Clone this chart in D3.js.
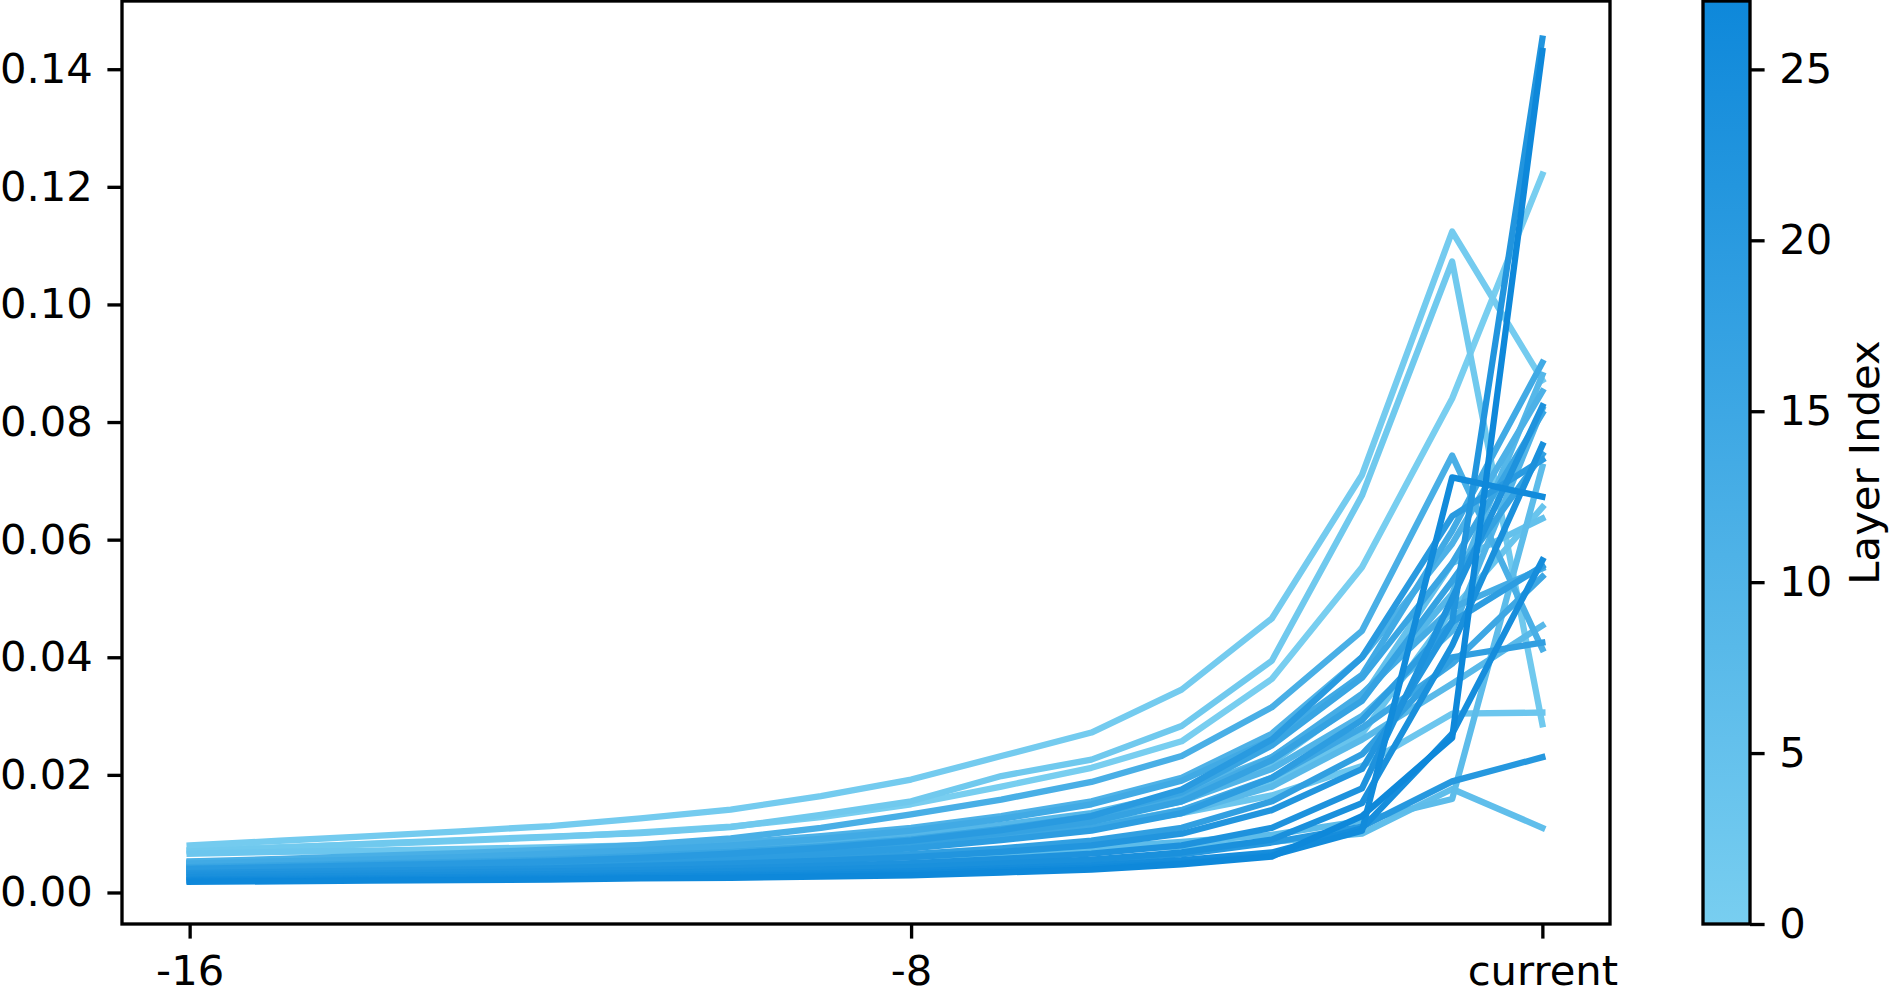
<!DOCTYPE html>
<html>
<head>
<meta charset="utf-8">
<script src="https://cdn.jsdelivr.net/npm/d3@7"></script>
<style>
  html, body { margin: 0; padding: 0; background: #fff; }
  svg { display: block; font-family: "DejaVu Sans", sans-serif; }
</style>
</head>
<body>
<svg id="chart" width="1890" height="995"></svg>
<script>
// ======================================================================
// DATA – per-layer value at each history step
// ======================================================================
const steps = [-16, -15, -14, -13, -12, -11, -10, -9, -8, -7, -6, -5, -4, -3, -2, -1];
const xTickValues = [-16, -8, -1];
const xTickLabels = ["-16", "-8", "current"];
const yTickValues = [0, 0.02, 0.04, 0.06, 0.08, 0.10, 0.12, 0.14];
const colorbarTicks = [0, 5, 10, 15, 20, 25];

const layer00 = [0.0072, 0.0077, 0.0082, 0.0088, 0.0094, 0.0102, 0.0112, 0.0128, 0.0150, 0.0180, 0.0212, 0.0257, 0.0363, 0.0553, 0.0840, 0.1221];
const layer01 = [0.0080, 0.0088, 0.0096, 0.0104, 0.0113, 0.0126, 0.0141, 0.0164, 0.0192, 0.0232, 0.0272, 0.0345, 0.0466, 0.0710, 0.1124, 0.0871];
const layer02 = [0.0070, 0.0076, 0.0083, 0.0089, 0.0095, 0.0101, 0.0111, 0.0132, 0.0155, 0.0198, 0.0226, 0.0283, 0.0394, 0.0675, 0.1073, 0.0286];
const layer03 = [0.0066, 0.0069, 0.0071, 0.0074, 0.0077, 0.0080, 0.0084, 0.0090, 0.0097, 0.0106, 0.0118, 0.0135, 0.0165, 0.0215, 0.0304, 0.0306];
const layer04 = [0.0052, 0.0055, 0.0057, 0.0060, 0.0063, 0.0067, 0.0072, 0.0078, 0.0085, 0.0097, 0.0112, 0.0140, 0.0190, 0.0270, 0.0480, 0.0655];
const layer05 = [0.0050, 0.0053, 0.0056, 0.0059, 0.0062, 0.0067, 0.0074, 0.0081, 0.0090, 0.0106, 0.0125, 0.0160, 0.0220, 0.0330, 0.0560, 0.0636];
const layer06 = [0.0040, 0.0042, 0.0044, 0.0046, 0.0048, 0.0050, 0.0053, 0.0056, 0.0060, 0.0066, 0.0072, 0.0078, 0.0086, 0.0100, 0.0176, 0.0110];
const layer07 = [0.0038, 0.0040, 0.0042, 0.0044, 0.0046, 0.0049, 0.0052, 0.0056, 0.0061, 0.0068, 0.0076, 0.0086, 0.0098, 0.0122, 0.0159, 0.0724];
const layer08 = [0.0047, 0.0050, 0.0052, 0.0055, 0.0058, 0.0062, 0.0067, 0.0074, 0.0082, 0.0095, 0.0110, 0.0135, 0.0180, 0.0260, 0.0355, 0.0454];
const layer09 = [0.0050, 0.0053, 0.0057, 0.0060, 0.0064, 0.0070, 0.0077, 0.0086, 0.0098, 0.0115, 0.0135, 0.0170, 0.0230, 0.0330, 0.0508, 0.0880];
const layer10 = [0.0048, 0.0051, 0.0054, 0.0057, 0.0061, 0.0066, 0.0073, 0.0081, 0.0092, 0.0107, 0.0125, 0.0155, 0.0210, 0.0300, 0.0445, 0.0822];
const layer11 = [0.0051, 0.0055, 0.0059, 0.0063, 0.0068, 0.0075, 0.0084, 0.0096, 0.0110, 0.0130, 0.0155, 0.0195, 0.0270, 0.0400, 0.0593, 0.0852];
const layer12 = [0.0053, 0.0057, 0.0062, 0.0067, 0.0073, 0.0081, 0.0092, 0.0110, 0.0133, 0.0158, 0.0188, 0.0232, 0.0315, 0.0445, 0.0743, 0.0414];
const layer13 = [0.0045, 0.0048, 0.0051, 0.0054, 0.0058, 0.0063, 0.0070, 0.0079, 0.0090, 0.0106, 0.0125, 0.0160, 0.0230, 0.0338, 0.0484, 0.0551];
const layer14 = [0.0049, 0.0053, 0.0056, 0.0060, 0.0066, 0.0072, 0.0080, 0.0091, 0.0105, 0.0125, 0.0150, 0.0190, 0.0260, 0.0370, 0.0615, 0.0901];
const layer15 = [0.0042, 0.0045, 0.0047, 0.0050, 0.0053, 0.0058, 0.0064, 0.0071, 0.0080, 0.0094, 0.0110, 0.0140, 0.0195, 0.0280, 0.0389, 0.0537];
const layer16 = [0.0043, 0.0046, 0.0049, 0.0052, 0.0056, 0.0062, 0.0069, 0.0078, 0.0090, 0.0108, 0.0130, 0.0170, 0.0250, 0.0365, 0.0560, 0.0815];
const layer17 = [0.0041, 0.0044, 0.0047, 0.0050, 0.0054, 0.0059, 0.0066, 0.0075, 0.0085, 0.0101, 0.0120, 0.0155, 0.0225, 0.0326, 0.0530, 0.0745];
const layer18 = [0.0036, 0.0038, 0.0040, 0.0042, 0.0045, 0.0048, 0.0052, 0.0058, 0.0065, 0.0075, 0.0088, 0.0110, 0.0155, 0.0235, 0.0400, 0.0425];
const layer19 = [0.0038, 0.0040, 0.0043, 0.0046, 0.0049, 0.0053, 0.0059, 0.0066, 0.0075, 0.0089, 0.0105, 0.0135, 0.0195, 0.0293, 0.0460, 0.0555];
const layer20 = [0.0040, 0.0043, 0.0046, 0.0049, 0.0053, 0.0059, 0.0066, 0.0076, 0.0088, 0.0106, 0.0130, 0.0175, 0.0260, 0.0400, 0.0640, 0.0736];
const layer21 = [0.0028, 0.0029, 0.0030, 0.0031, 0.0033, 0.0035, 0.0037, 0.0040, 0.0043, 0.0048, 0.0055, 0.0065, 0.0085, 0.0112, 0.0189, 0.0230];
const layer22 = [0.0033, 0.0035, 0.0037, 0.0039, 0.0041, 0.0045, 0.0049, 0.0054, 0.0060, 0.0069, 0.0080, 0.0100, 0.0140, 0.0210, 0.0460, 0.1452];
const layer23 = [0.0030, 0.0031, 0.0032, 0.0034, 0.0036, 0.0038, 0.0041, 0.0045, 0.0050, 0.0057, 0.0066, 0.0080, 0.0110, 0.0177, 0.0500, 0.0827];
const layer24 = [0.0026, 0.0027, 0.0028, 0.0030, 0.0031, 0.0033, 0.0036, 0.0039, 0.0043, 0.0049, 0.0056, 0.0068, 0.0090, 0.0152, 0.0420, 0.0761];
const layer25 = [0.0022, 0.0023, 0.0024, 0.0026, 0.0027, 0.0029, 0.0031, 0.0033, 0.0036, 0.0041, 0.0046, 0.0055, 0.0068, 0.0109, 0.0270, 0.0565];
const layer26 = [0.0020, 0.0021, 0.0022, 0.0023, 0.0024, 0.0026, 0.0028, 0.0030, 0.0032, 0.0037, 0.0042, 0.0050, 0.0063, 0.0105, 0.0706, 0.0673];
const layer27 = [0.0018, 0.0019, 0.0020, 0.0021, 0.0022, 0.0024, 0.0025, 0.0027, 0.0029, 0.0034, 0.0039, 0.0048, 0.0061, 0.0130, 0.0263, 0.1431];

const layerValues = [
  layer00, layer01, layer02, layer03, layer04, layer05, layer06, layer07,
  layer08, layer09, layer10, layer11, layer12, layer13, layer14, layer15,
  layer16, layer17, layer18, layer19, layer20, layer21, layer22, layer23,
  layer24, layer25, layer26, layer27
];

// ======================================================================
// LAYOUT (300 dpi look: 10pt text, 0.8pt spines, 1.5pt lines)
// ======================================================================
const FONT = 41.7;
const TICK = 14.6;
const PAD = 14.6;
const SPINE = 3.33;
const plot = { left: 122, right: 1610, top: 1, bottom: 924 };
const cbar = { left: 1703, right: 1750, top: 1, bottom: 924 };

const svg = d3.select("#chart");

const x = d3.scaleLinear().domain([-16.75, -0.25]).range([plot.left, plot.right]);
const y = d3.scaleLinear().domain([-0.00536, 0.1516]).range([plot.bottom, plot.top]);
const color = d3.scaleLinear()
  .domain([0, layerValues.length - 1])
  .range(["#78cef0", "#0e88da"])
  .interpolate(d3.interpolateRgb);

// ======================================================================
// LINES
// ======================================================================
const line = d3.line()
  .x((d, i) => x(steps[i]))
  .y(d => y(d));

svg.append("g")
  .attr("class", "lines")
  .selectAll("path")
  .data(layerValues)
  .enter()
  .append("path")
  .attr("d", d => line(d))
  .attr("fill", "none")
  .attr("stroke", (d, i) => color(i))
  .attr("stroke-width", 6.3)
  .attr("stroke-linejoin", "round")
  .attr("stroke-linecap", "square");

// ======================================================================
// AXES
// ======================================================================
function styleAxis(g) {
  g.select(".domain").remove();
  g.selectAll(".tick line").attr("stroke", "#000").attr("stroke-width", SPINE);
  g.selectAll(".tick text")
    .attr("fill", "#000")
    .attr("font-size", FONT)
    .attr("font-family", "DejaVu Sans");
}

svg.append("g")
  .attr("transform", `translate(0,${plot.bottom})`)
  .call(d3.axisBottom(x)
    .tickValues(xTickValues)
    .tickFormat((d, i) => xTickLabels[i])
    .tickSize(TICK)
    .tickPadding(PAD))
  .call(styleAxis)
  .selectAll(".tick text")
  .attr("dy", "0.76em");

svg.append("g")
  .attr("transform", `translate(${plot.left},0)`)
  .call(d3.axisLeft(y)
    .tickValues(yTickValues)
    .tickFormat(d3.format(".2f"))
    .tickSize(TICK)
    .tickPadding(PAD))
  .call(styleAxis);

// axes frame
svg.append("rect")
  .attr("x", plot.left)
  .attr("y", plot.top)
  .attr("width", plot.right - plot.left)
  .attr("height", plot.bottom - plot.top)
  .attr("fill", "none")
  .attr("stroke", "#000")
  .attr("stroke-width", SPINE);

// ======================================================================
// COLORBAR
// ======================================================================
const cScale = d3.scaleLinear()
  .domain([0, layerValues.length - 1])
  .range([cbar.bottom, cbar.top]);

const grad = svg.append("defs")
  .append("linearGradient")
  .attr("id", "cbar-grad")
  .attr("x1", 0).attr("y1", 1)
  .attr("x2", 0).attr("y2", 0);

grad.selectAll("stop")
  .data(d3.range(0, 1.0001, 0.1))
  .enter()
  .append("stop")
  .attr("offset", d => d)
  .attr("stop-color", d => color(d * (layerValues.length - 1)));

svg.append("rect")
  .attr("x", cbar.left)
  .attr("y", cbar.top)
  .attr("width", cbar.right - cbar.left)
  .attr("height", cbar.bottom - cbar.top)
  .attr("fill", "url(#cbar-grad)")
  .attr("stroke", "#000")
  .attr("stroke-width", SPINE);

svg.append("g")
  .attr("transform", `translate(${cbar.right},0)`)
  .call(d3.axisRight(cScale)
    .tickValues(colorbarTicks)
    .tickSize(TICK)
    .tickPadding(PAD))
  .call(styleAxis);

svg.append("text")
  .attr("transform", `translate(1864,${(cbar.top + cbar.bottom) / 2}) rotate(-90)`)
  .attr("text-anchor", "middle")
  .attr("dy", "0.35em")
  .attr("font-size", FONT)
  .attr("font-family", "DejaVu Sans")
  .attr("fill", "#000")
  .text("Layer Index");
</script>
</body>
</html>
